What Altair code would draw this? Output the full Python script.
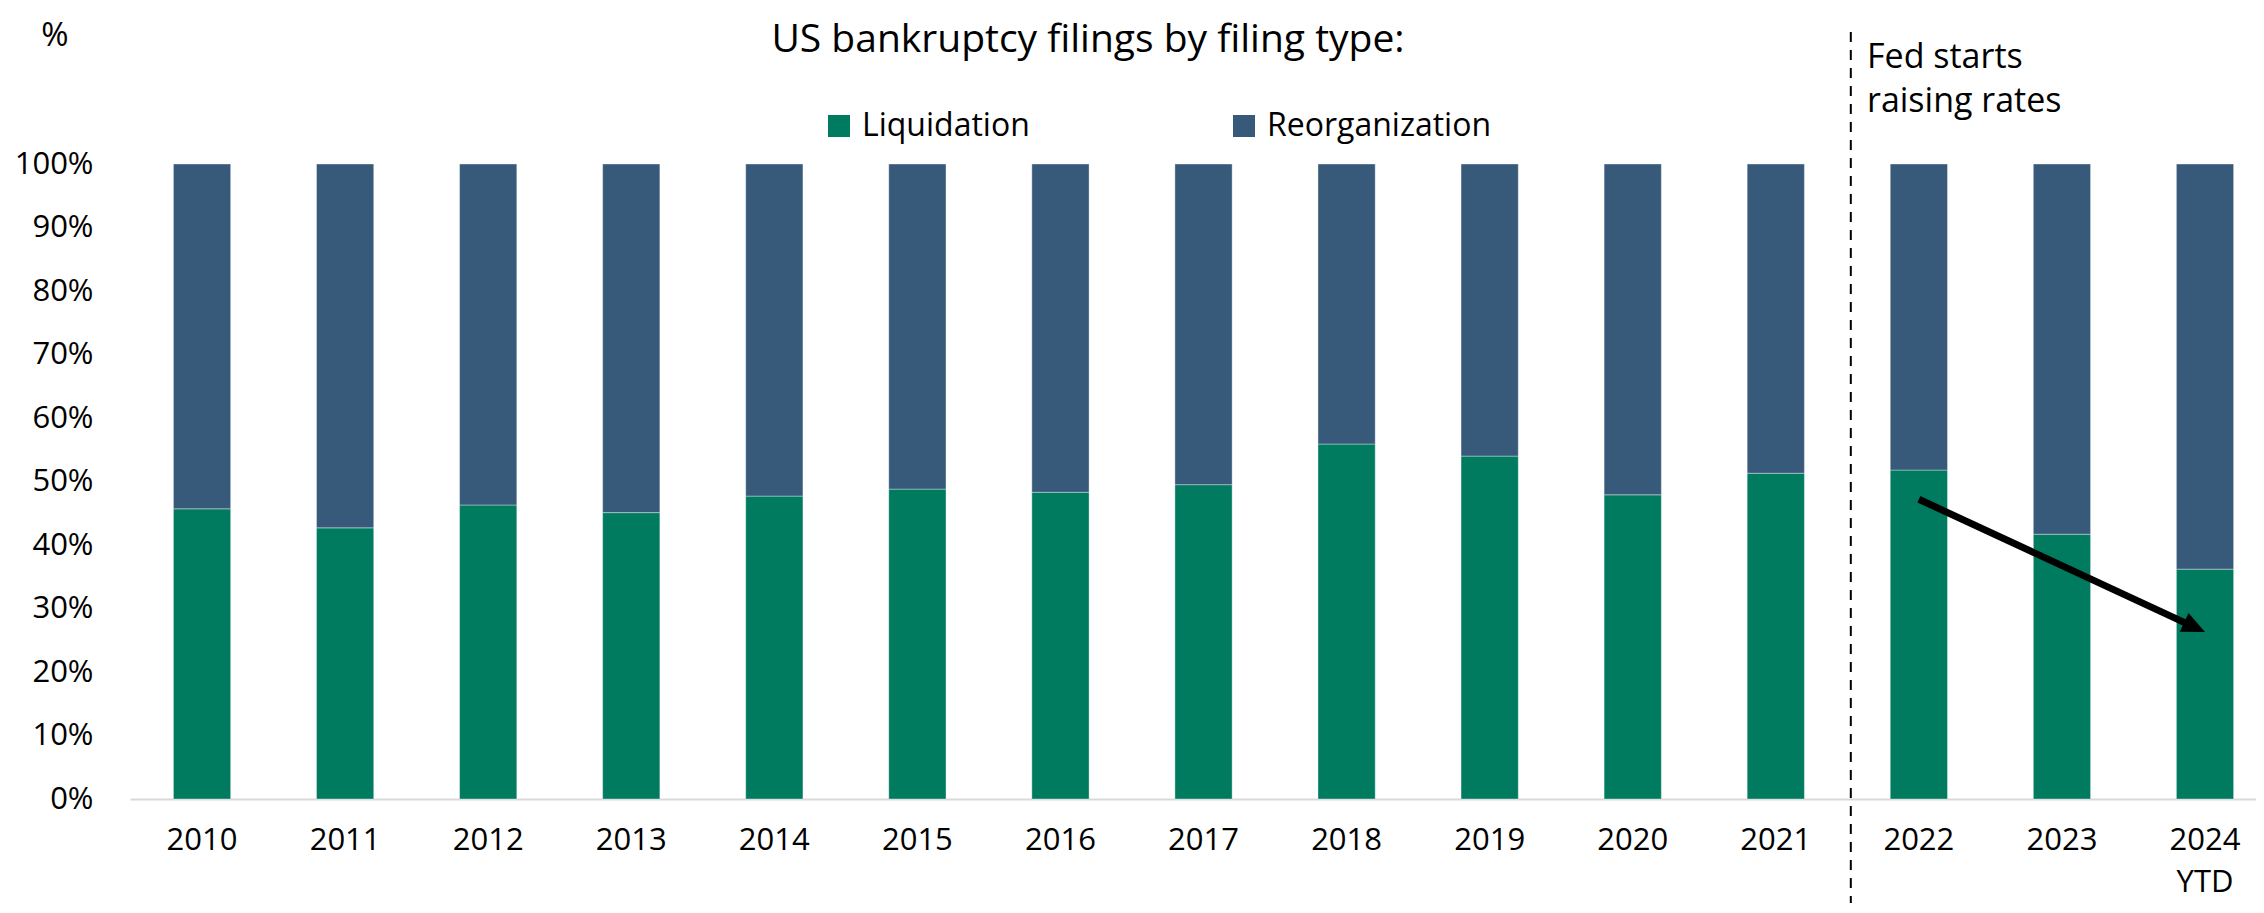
import altair as alt
import pandas as pd

# ---- data ----
categories = ["2010", "2011", "2012", "2013", "2014", "2015", "2016", "2017",
              "2018", "2019", "2020", "2021", "2022", "2023", "2024 YTD"]
liquidation = [45.7, 42.7, 46.3, 45.1, 47.7, 48.8, 48.3, 49.5,
               55.9, 54.0, 47.9, 51.3, 51.8, 41.7, 36.2]
reorganization = [54.3, 57.3, 53.7, 54.9, 52.3, 51.2, 51.7, 50.5,
                  44.1, 46.0, 52.1, 48.7, 48.2, 58.3, 63.8]
series_names = ["Liquidation", "Reorganization"]
series_colors = ["#007b5f", "#385a7a"]
y_ticks = [0, 10, 20, 30, 40, 50, 60, 70, 80, 90, 100]

# arrow annotation (start/end in data coordinates)
arrow_start = ("2022", 47.2)
arrow_end = ("2024 YTD", 26.3)
divider_after = "2021"

FONT = "Open Sans"

rows = []
for c, l, r in zip(categories, liquidation, reorganization):
    rows.append({"cat": c, "type": series_names[0], "value": l, "ord": 0})
    rows.append({"cat": c, "type": series_names[1], "value": r, "ord": 1})
df = pd.DataFrame(rows)

x_scale = alt.Scale(domain=categories, paddingInner=0.6, paddingOuter=0.23, align=0.66)
y_scale = alt.Scale(domain=[0, 100], nice=False)

x_enc = alt.X(
    "cat:N", scale=x_scale, sort=categories, title=None,
    axis=alt.Axis(labelAngle=0, ticks=False, domainColor="#d9d9d9", domainWidth=2,
                  labelFont=FONT, labelFontSize=31, labelColor="black",
                  labelPadding=26, labelLineHeight=42,
                  labelExpr="split(datum.value, ' ')"))

bars = alt.Chart(df).mark_bar(stroke="#ffffff", strokeWidth=0.8, strokeOpacity=0.45).encode(
    x=x_enc,
    y=alt.Y("value:Q", stack="zero", scale=y_scale, title=None,
            axis=alt.Axis(values=y_ticks, labelExpr="datum.value + '%'", ticks=False,
                          domain=False, grid=False, labelFont=FONT, labelFontSize=31,
                          labelColor="black", labelPadding=37)),
    color=alt.Color("type:N", scale=alt.Scale(domain=series_names, range=series_colors),
                    legend=alt.Legend(title=None, orient="none", legendX=693, legendY=-54,
                                      direction="horizontal", columns=2,
                                      symbolType="square", symbolSize=484,
                                      symbolStrokeWidth=0, labelFont=FONT,
                                      labelFontSize=32, labelColor="black",
                                      labelOffset=7, columnPadding=198,
                                      labelLimit=400)),
    order=alt.Order("ord:Q"),
)

divider = alt.Chart(pd.DataFrame({"cat": [divider_after]})).mark_rule(
    color="black", strokeWidth=2, strokeDash=[10, 8], xOffset=75
).encode(x=alt.X("cat:N", scale=x_scale, sort=categories),
         y=alt.value(-132), y2=alt.value(745))

arrow_df = pd.DataFrame({"cat": [arrow_start[0]], "value": [arrow_start[1]],
                         "cat2": [arrow_end[0]], "value2": [arrow_end[1]]})
arrow_line = alt.Chart(arrow_df).mark_rule(
    color="black", strokeWidth=7, x2Offset=-16, y2Offset=-7.4
).encode(x=alt.X("cat:N", scale=x_scale, sort=categories), y=alt.Y("value:Q"),
         x2="cat2:N", y2="value2:Q")

head_df = pd.DataFrame({"cat": [arrow_end[0]], "value": [arrow_end[1]]})
arrow_head = alt.Chart(head_df).mark_point(
    shape="M-1,-0.9L1,0L-1,0.9Z", size=529, filled=True, color="black", opacity=1,
    angle=24.9, xOffset=-10.4, yOffset=-4.8, strokeWidth=0
).encode(x=alt.X("cat:N", scale=x_scale, sort=categories), y=alt.Y("value:Q"))

one = pd.DataFrame({"a": [0]})
title = alt.Chart(one).mark_text(
    text="US bankruptcy filings by filing type:", font=FONT, fontSize=39,
    align="center", baseline="alphabetic", color="black"
).encode(x=alt.value(958), y=alt.value(-112))

pct = alt.Chart(one).mark_text(
    text="%", font=FONT, fontSize=33, align="center", baseline="alphabetic", color="black"
).encode(x=alt.value(-75), y=alt.value(-118))

fed = alt.Chart(one).mark_text(
    text=["Fed starts", "raising rates"], font=FONT, fontSize=34, lineHeight=44,
    align="left", baseline="alphabetic", color="black"
).encode(x=alt.value(1737), y=alt.value(-96))

chart = alt.layer(bars, divider, arrow_line, arrow_head, title, pct, fed).properties(
    width=2126, height=635,
    padding={"left": 122, "top": 156, "right": 0, "bottom": 104},
    autosize=alt.AutoSizeParams(type="none"),
).configure_view(stroke=None)

chart.save("out.html", embed_options={"renderer": "svg", "actions": False})
